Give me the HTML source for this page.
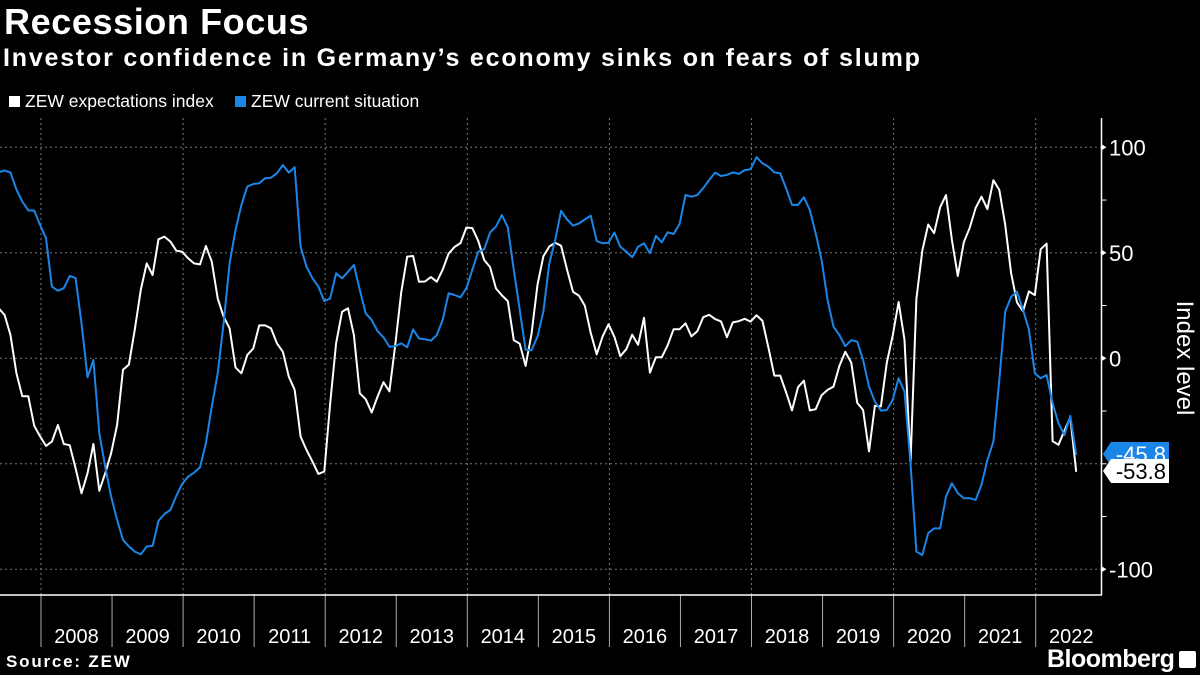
<!DOCTYPE html>
<html><head><meta charset="utf-8"><style>
html,body{margin:0;padding:0;background:#000;}
body{width:1200px;height:675px;overflow:hidden;position:relative;font-family:"Liberation Sans","DejaVu Sans",sans-serif;color:#fff;}
.t{position:absolute;white-space:nowrap;}
</style></head><body>
<div class="t" style="left:4px;top:1px;font-size:36px;font-weight:bold;letter-spacing:0.6px;">Recession Focus</div>
<div class="t" style="left:3px;top:44px;font-size:25px;font-weight:bold;letter-spacing:1.8px;">Investor confidence in Germany’s economy sinks on fears of slump</div>
<div class="t" style="left:9px;top:91px;font-size:17.5px;"><span style="display:inline-block;width:11px;height:11px;background:#fff;margin-right:5px;"></span>ZEW expectations index</div>
<div class="t" style="left:235px;top:91px;font-size:17.5px;"><span style="display:inline-block;width:11px;height:11px;background:#1a86e8;margin-right:5px;"></span>ZEW current situation</div>
<div class="t" style="left:6px;top:652px;font-size:17px;font-weight:bold;letter-spacing:1.8px;">Source: ZEW</div>
<div class="t" style="left:1047px;top:645px;font-size:25px;font-weight:bold;letter-spacing:-0.5px;">Bloomberg</div>
<div class="t" style="left:1179px;top:651px;width:17px;height:17px;background:#fff;border-radius:2px;"></div>
<svg id="chart" width="1200" height="675" style="position:absolute;left:0;top:0;"></svg>
<script>
const years = [2008,2009,2010,2011,2012,2013,2014,2015,2016,2017,2018,2019,2020,2021,2022];
const yTicks = [100,50,0,-100];
const yMinor = [75,25,-25,-50,-75];
// monthly, May 2007 .. Jul 2022
const expectations = [23.7,20.5,11,-7,-18,-18,-32,-37,
-41.5,-39.5,-31.6,-40.6,-41.2,-52.2,-64,-54.5,-40.6,-62.8,-54.5,-45,
-31.6,-5.4,-3,13.6,32.4,45,39.5,56.4,57.7,55.3,51,50.5,
47.4,45,44.5,53.2,45.8,28.4,19.7,14.2,-4.3,-7.1,1.6,4.7,
15.6,15.6,14.2,7.1,3.1,-8.7,-15,-37.1,-43.4,-49,-54.8,-53.7,
-21.3,7.1,22.1,23.7,11,-16.6,-19.4,-25.7,-18.1,-11.3,-15.7,6.9,
31.5,48.2,48.5,36.3,36.4,38.5,36.3,42.0,49.6,52.8,54.6,62.0,
61.7,55.7,46.6,43.2,33.1,29.8,27.1,8.6,6.9,-3.6,11.5,34.9,
48.4,53.0,54.8,53.3,41.9,31.5,29.7,25.0,12.1,1.9,10.4,16.1,
10.2,1.0,4.3,11.2,6.4,19.2,-6.8,0.5,0.5,6.2,13.8,13.8,
16.6,10.4,12.8,19.5,20.6,18.6,17.5,10.0,17.0,17.6,18.7,17.4,
20.4,17.8,5.1,-8.2,-8.2,-16.1,-24.7,-13.7,-10.6,-24.7,-24.1,-17.5,
-15.0,-13.4,-3.6,3.1,-2.1,-21.1,-24.5,-44.1,-22.5,-22.8,-2.1,10.7,
26.7,8.7,-49.5,28.2,51.0,63.4,59.3,71.5,77.4,56.1,39.0,55.0,
61.8,71.2,76.6,70.7,84.4,79.8,63.3,40.4,26.5,22.3,31.7,29.9,
51.7,54.3,-39.3,-41.0,-34.3,-28.0,-53.8];
const currentSituation = [88.1,89,88,80,74.3,70.1,70,63.2,
56.9,34,32,33.2,39,38,16.6,-9,-0.8,-35.5,-51.3,-65.5,
-76.6,-86,-89.2,-91.6,-92.9,-89.2,-88.9,-77,-73.8,-71.9,-65.2,-59.5,
-56.1,-54.2,-51.7,-40.3,-22.9,-7.1,16.6,45,60.8,72.7,81.4,82.6,
83,85.3,85.6,87.7,91.6,88,90.5,52.9,43.4,37.9,34,27.1,
28.4,40.3,37.9,41,44.2,32.4,21.3,18.1,12.9,9.9,5.5,5.8,
7.1,5.2,13.7,9.4,9.0,8.4,11,18.2,30.8,30,28.9,33.2,
41.9,50.5,51.7,59.6,62.4,67.9,62.1,41.9,23,4.1,3.8,10.3,
22.2,45,56.1,69.9,65.8,62.9,63.9,65.8,67.6,55.6,54.5,54.8,
59.6,52.9,50.5,47.9,52.9,54.5,49.8,58,55,59.7,58.9,63.7,
77.4,76.6,77.4,80.6,84.5,88,86.4,86.9,88.1,87.4,89.2,89.6,
95.3,92.4,90.8,88.1,87.7,80.6,72.7,72.7,76.3,70.3,59.2,46.6,
27.6,15,11,5.8,8.6,7.9,-0.8,-13.4,-20.5,-24.8,-24.5,-19.7,
-9.5,-15.8,-49.8,-91.6,-93.2,-82.9,-80.6,-80.6,-65.5,-59.2,-63.9,-66.3,
-66.3,-67.1,-60,-48.2,-39.5,-10.3,22.1,29.2,31.6,23,13.6,-7.1,
-9.5,-7.9,-21.3,-30.8,-36.4,-27.3,-45.8];

const svg = document.getElementById('chart');
const NS = 'http://www.w3.org/2000/svg';
const yearW = 71.05, x2008 = 41, axisX = 1101.5, plotTop = 118, plotBot = 595;
function xm(i){ return x2008 + (i - 7) * (yearW/12) - 0.9; }
function yv(v){ return 358.3 - v * 2.11; }
function mk(tag, attrs){ const e = document.createElementNS(NS, tag); for (const k in attrs) e.setAttribute(k, attrs[k]); svg.appendChild(e); return e; }

yTicks.concat([-50]).forEach(v => {
  const g = mk('line', {x1:0, x2:axisX, y1:yv(v), y2:yv(v), stroke:'#777', 'stroke-width':1, 'stroke-dasharray':'2,3'});
  
  
});
years.forEach((yr, k) => {
  const x = x2008 + k * yearW;
  if (k % 2 === 0) {
    const g = mk('line', {x1:x, x2:x, y1:plotTop, y2:plotBot, stroke:'#777', 'stroke-width':1, 'stroke-dasharray':'2,3'});
    
    
  }
  const s = mk('line', {x1:x, x2:x, y1:plotBot, y2:647, stroke:'#aaa', 'stroke-width':1});
  
  
  const t = mk('text', {x:x + yearW/2, y:643, fill:'#fff', 'font-size':20, 'text-anchor':'middle', 'font-family':'Liberation Sans, sans-serif'});
  t.textContent = yr;
  
  
});
const xa = mk('line', {x1:0, x2:axisX+0.5, y1:plotBot, y2:plotBot, stroke:'#fff', 'stroke-width':1.5});


const ya = mk('line', {x1:axisX, x2:axisX, y1:plotTop, y2:plotBot, stroke:'#fff', 'stroke-width':1.5});


yTicks.forEach(v => {
  const tk = mk('polygon', {points:`${axisX},${yv(v)-3} ${axisX+5},${yv(v)} ${axisX},${yv(v)+3}`, fill:'#fff'});
  
  
  const t = mk('text', {x:1109, y:yv(v)+8, fill:'#fff', 'font-size':22, 'font-family':'Liberation Sans, sans-serif'});
  t.textContent = v < 0 ? '-' + Math.abs(v) : String(v);
  
  
});
yMinor.forEach(v => {
  const tk = mk('line', {x1:axisX, x2:axisX+5, y1:yv(v), y2:yv(v), stroke:'#fff', 'stroke-width':1});
  
  
});
const yt = mk('text', {x:0, y:0, fill:'#fff', 'font-size':24, 'text-anchor':'middle', transform:'translate(1177,358) rotate(90)', 'font-family':'Liberation Sans, sans-serif'});
yt.textContent = 'Index level';



function path(arr){ return arr.map((v,i)=>(i?'L':'M')+xm(i).toFixed(1)+','+yv(v).toFixed(1)).join(''); }
const pe = mk('path', {d:path(expectations), fill:'none', stroke:'#fff', 'stroke-width':2, 'stroke-linejoin':'round'});


const pc = mk('path', {d:path(currentSituation), fill:'none', stroke:'#1a86e8', 'stroke-width':2, 'stroke-linejoin':'round'});



function endLabel(val, color, textColor, yTop, name){
  const x0 = 1103, x1 = 1169, h = 24;
  const b = mk('polygon', {points:`${x0},${yTop+h/2} ${x0+8},${yTop} ${x1},${yTop} ${x1},${yTop+h} ${x0+8},${yTop+h}`, fill:color});
  
  
  const t = mk('text', {x:1166, y:yTop+20, fill:textColor, 'font-size':22, 'text-anchor':'end', 'font-family':'Liberation Sans, sans-serif'});
  t.textContent = val.toFixed(1);
  
  
}
endLabel(currentSituation[currentSituation.length-1], '#1a86e8', '#fff', 442, 'current-end-label');
endLabel(expectations[expectations.length-1], '#fff', '#000', 459, 'expectations-end-label');
</script>
</body></html>
